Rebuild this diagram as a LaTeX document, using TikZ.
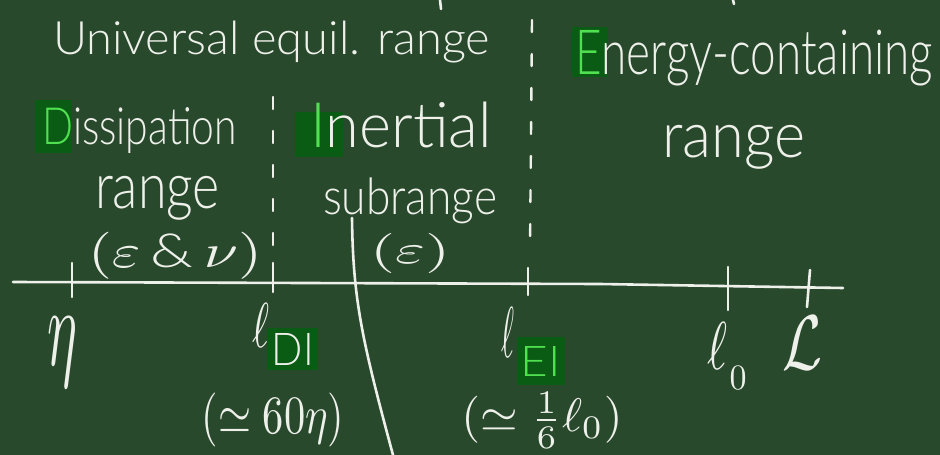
\documentclass[tikz,border=0pt]{standalone}
\usepackage{fontspec}
\setmainfont{Lato Light}
\usepackage{graphicx}
\definecolor{board}{RGB}{41,73,45}
\definecolor{chalkc}{RGB}{238,240,234}
\definecolor{hlbg}{RGB}{10,92,20}
\definecolor{hlg}{RGB}{80,225,80}
\begin{document}
\begin{tikzpicture}[x=1pt,y=-1pt,
  chalk/.style={draw=chalkc,line width=2.6pt,line cap=round},
  dashline/.style={draw=chalkc,line width=2.4pt,line cap=round,dash pattern=on 12pt off 22pt},
  txt/.style={text=chalkc,inner sep=0pt,outer sep=0pt},
  hlbox/.style={fill=hlbg,draw=none}]
\fill[board] (0,0) rectangle (940,455);
\useasboundingbox (0,0) rectangle (940,455);

% highlight boxes
\fill[hlbox] (35,100) rectangle (72,153);
\fill[hlbox] (295,112) rectangle (343,157);
\fill[hlbox] (572,27) rectangle (608,77);
\fill[hlbox] (267,328) rectangle (318,370);
\fill[hlbox] (517,337) rectangle (565,385);

% fragments at top edge
\coordinate (fa1) at (440,0); \coordinate (fa2) at (441,9);
\coordinate (fb1) at (733,0); \coordinate (fb2) at (734,4);
\draw[chalk] (fa1) -- (fa2);
\draw[chalk] (fb1) -- (fb2);

% axis
\coordinate (ax0) at (13,282);
\coordinate (axm) at (600,284);
\coordinate (ax1) at (843,288);
\draw[chalk] (ax0) -- (axm) -- (ax1);

% ticks
\coordinate (t1a) at (72,263);  \coordinate (t1b) at (72,297);
\coordinate (t2a) at (273,263); \coordinate (t2b) at (273,292);
\coordinate (t3a) at (528,268); \coordinate (t3b) at (528,295);
\coordinate (t4a) at (728,267); \coordinate (t4b) at (728,310);
\coordinate (t5a) at (810,270); \coordinate (t5b) at (807,307);
\draw[chalk] (t1a) -- (t1b);
\draw[chalk] (t2a) -- (t2b);
\draw[chalk] (t3a) -- (t3b);
\draw[chalk] (t4a) -- (t4b);
\draw[chalk] (t5a) -- (t5b);

% dashed separators
\coordinate (d1a) at (273,97); \coordinate (d1b) at (273,250);
\coordinate (d2a) at (532,20); \coordinate (d2b) at (530,250);
\draw[dashline] (d1a) -- (d1b);
\draw[dashline] (d2a) -- (d2b);

% big curve
\coordinate (c0) at (352,218);
\coordinate (c1) at (393,455);
\draw[chalk] (c0) .. controls (353,300) and (362,340) .. (c1);

% texts
\node[txt,anchor=north west] (univ) at (53,21) {\resizebox*{437pt}{42pt}{Universal equil. range}};
\node[txt,anchor=north west] (diss) at (42,108) {\resizebox*{195pt}{46pt}{{\color{hlg}D}issipation}};
\node[txt,anchor=north west] (drange) at (95,176) {\resizebox*{125pt}{44pt}{range}};
\node[txt,anchor=north west] (dpar) at (88,232) {\resizebox*{174pt}{47pt}{$(\varepsilon\,\&\,\nu)$}};
\node[txt,anchor=north west] (inert) at (310,102) {\resizebox*{182pt}{46pt}{{\color{hlg}I}nertial}};
\node[txt,anchor=north west] (sub) at (323,178) {\resizebox*{174pt}{46pt}{subrange}};
\node[txt,anchor=north west] (ipar) at (370,233) {\resizebox*{80pt}{40pt}{$(\varepsilon)$}};
\node[txt,anchor=north west] (energy) at (575,30) {\resizebox*{358pt}{56pt}{{\color{hlg}E}nergy-containing}};
\node[txt,anchor=north west] (erange) at (662,125) {\resizebox*{143pt}{44pt}{range}};

% axis labels
\node[txt] (eta) at (63,352) {\resizebox*{30pt}{70pt}{$\eta$}};
\node[txt] (ldi) at (261,325) {\resizebox*{17pt}{44pt}{$\ell$}};
\node[txt] (di) at (293,349) {\resizebox*{42pt}{32pt}{DI}};
\node[txt] (ldieq) at (273,420) {\resizebox*{143pt}{54pt}{$(\simeq 60\eta)$}};
\node[txt] (lei) at (508,332) {\resizebox*{13pt}{50pt}{$\ell$}};
\node[txt] (ei) at (541,361) {\resizebox*{40pt}{30pt}{\color{hlg}EI}};
\node[txt] (leieq) at (542,420) {\resizebox*{161pt}{56pt}{$(\simeq\frac{1}{6}\ell_0)$}};
\node[txt] (l0) at (717,346) {\resizebox*{20pt}{47pt}{$\ell$}};
\node[txt] (l0s) at (738,378) {\resizebox*{17pt}{23pt}{$0$}};
\node[txt] (calL) at (802,343) {\resizebox*{40pt}{53pt}{$\mathcal{L}$}};
\end{tikzpicture}
\end{document}
